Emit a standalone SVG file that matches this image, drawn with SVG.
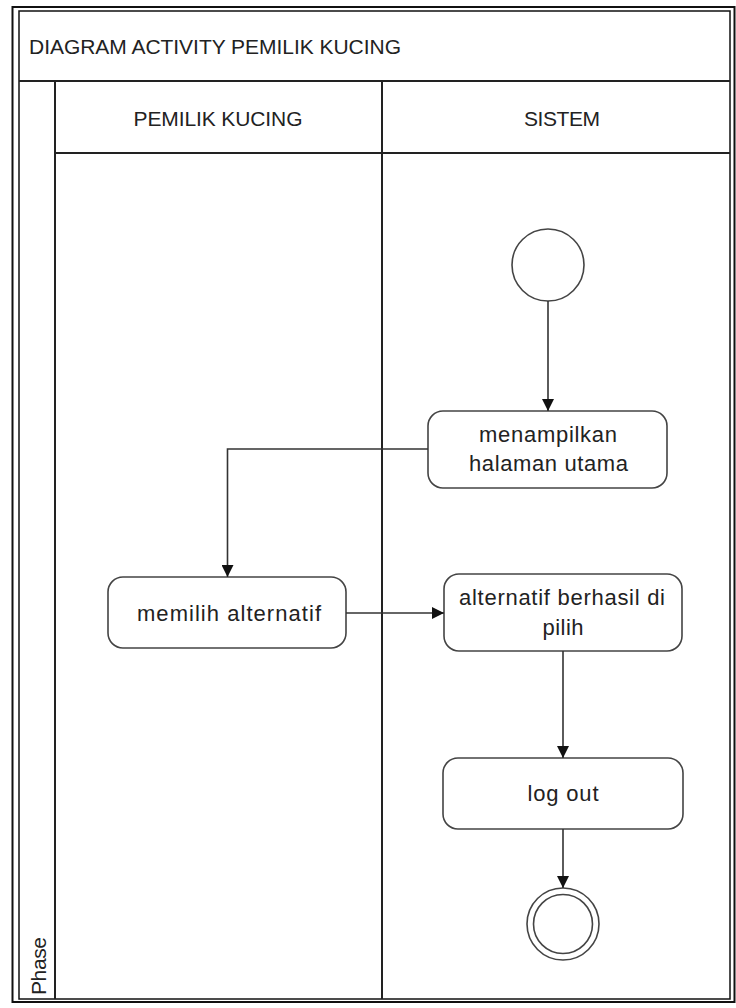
<svg xmlns="http://www.w3.org/2000/svg" width="736" height="1008" viewBox="0 0 736 1008">
<style>
.frame{fill:none;stroke:#111;}
.lane{stroke:#222;stroke-width:2;fill:none;}
.node{fill:#fff;stroke:#444;stroke-width:1.6;}
.conn{fill:none;stroke:#333;stroke-width:1.6;marker-end:url(#arr);}
text{font-family:"Liberation Sans",Arial,sans-serif;fill:#222;}
.cap{font-size:21px;}
.lbl{font-size:22px;text-anchor:middle;}
</style>
<defs>
<marker id="arr" markerUnits="userSpaceOnUse" markerWidth="12" markerHeight="12" refX="12" refY="6" orient="auto">
<path d="M0,0 L12,6 L0,12 z" fill="#111"/>
</marker>
</defs>
<rect width="736" height="1008" fill="#fff"/>
<g id="pool">
<rect class="frame" x="12.5" y="7" width="722" height="995" stroke-width="2"/>
<rect class="frame" x="19" y="11" width="711" height="988" stroke-width="1.5"/>
<line class="lane" x1="19" y1="81" x2="730" y2="81"/>
<line class="lane" x1="55" y1="153" x2="730" y2="153"/>
<line class="lane" x1="55" y1="81" x2="55" y2="999"/>
<line class="lane" x1="382" y1="81" x2="382" y2="999"/>
<text class="cap" x="29" y="54" textLength="372">DIAGRAM ACTIVITY PEMILIK KUCING</text>
<text class="cap" x="218" y="126" text-anchor="middle" textLength="169">PEMILIK KUCING</text>
<text class="cap" x="562" y="126" text-anchor="middle" textLength="76">SISTEM</text>
<text class="cap" transform="translate(45.5,995) rotate(-90)" x="0" y="0" textLength="58">Phase</text>
</g>
<g id="start"><circle class="node" cx="548" cy="265" r="36"/></g>
<g id="n1">
<rect class="node" x="428" y="411" width="239" height="77" rx="15"/>
<text class="lbl" x="548" y="442" textLength="138">menampilkan</text>
<text class="lbl" x="548.5" y="471" textLength="159">halaman utama</text>
</g>
<g id="n2">
<rect class="node" x="108" y="577" width="238" height="71" rx="15"/>
<text class="lbl" x="229" y="621" textLength="184">memilih alternatif</text>
</g>
<g id="n3">
<rect class="node" x="444" y="574" width="238" height="77" rx="15"/>
<text class="lbl" x="562" y="605" textLength="206">alternatif berhasil di</text>
<text class="lbl" x="563" y="635" textLength="41">pilih</text>
</g>
<g id="n4">
<rect class="node" x="443" y="758" width="240" height="71" rx="15"/>
<text class="lbl" x="563" y="801" textLength="71">log out</text>
</g>
<g id="end">
<circle class="node" cx="563" cy="924" r="36"/>
<circle class="node" cx="563" cy="924" r="29.5"/>
</g>
<g id="connectors">
<path class="conn" d="M548,301 L548,411"/>
<path class="conn" d="M428,449 L227.5,449 L227.5,577"/>
<path class="conn" d="M346,613 L444,613"/>
<path class="conn" d="M563,651 L563,758"/>
<path class="conn" d="M563,829 L563,888"/>
</g>
</svg>
